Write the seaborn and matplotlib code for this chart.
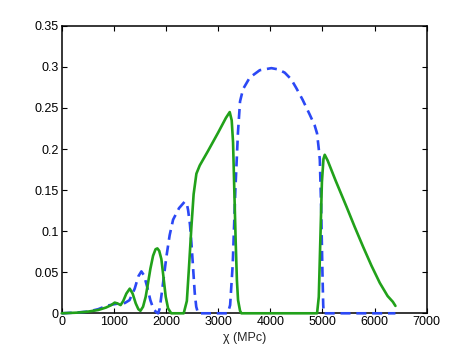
import matplotlib
matplotlib.use("Agg")
import matplotlib.pyplot as plt
import seaborn as sns

# Values
green_x = [0, 300, 500, 700, 850, 950, 1016, 1070, 1130, 1180, 1240, 1305, 1360, 1420,
           1470, 1510, 1560, 1610, 1656, 1700, 1752, 1800, 1835, 1870, 1911, 1950, 1995,
           2040, 2100, 2340, 2400, 2440, 2487, 2530, 2583, 2647, 2800, 3000, 3150, 3222,
           3260, 3286, 3310, 3337, 3360, 3382, 3420, 3446, 4897, 4930, 4960, 4990, 5020,
           5044, 5100, 5250, 5460, 5620, 5780, 5940, 6100, 6250, 6350, 6400]
green_y = [0, 0.0008, 0.002, 0.004, 0.007, 0.010, 0.013, 0.012, 0.010, 0.015, 0.024, 0.030,
           0.024, 0.012, 0.005, 0.003, 0.008, 0.020, 0.037, 0.054, 0.070, 0.078, 0.079,
           0.076, 0.066, 0.045, 0.020, 0.006, 0, 0, 0.015, 0.055, 0.105, 0.145, 0.170,
           0.180, 0.197, 0.220, 0.238, 0.245, 0.235, 0.208, 0.150, 0.086, 0.040, 0.016,
           0.003, 0, 0, 0.02, 0.09, 0.160, 0.188, 0.193, 0.186, 0.162, 0.130, 0.105,
           0.081, 0.058, 0.037, 0.021, 0.014, 0.009]

blue_x = [0, 300, 500, 700, 857, 1000, 1100, 1210, 1300, 1400, 1470, 1528, 1580, 1640,
          1700, 1760, 1820, 1850, 1880, 1930, 2008, 2070, 2136, 2250, 2360, 2400, 2423,
          2460, 2487, 2520, 2551, 2580, 2615, 3185, 3230, 3280, 3330, 3380, 3420, 3478,
          3606, 3798, 4021, 4150, 4277, 4400, 4501, 4620, 4756, 4850, 4897, 4930, 4950,
          4975, 5000, 5015, 5025, 6400]
blue_y = [0, 0.001, 0.002, 0.005, 0.009, 0.011, 0.012, 0.0125, 0.016, 0.030, 0.045, 0.051,
          0.046, 0.032, 0.016, 0.005, 0.001, 0, 0.006, 0.030, 0.069, 0.095, 0.114, 0.128,
          0.136, 0.133, 0.126, 0.108, 0.086, 0.055, 0.025, 0.008, 0, 0, 0.010, 0.060,
          0.150, 0.220, 0.258, 0.273, 0.287, 0.296, 0.2985, 0.297, 0.293, 0.285, 0.274,
          0.260, 0.242, 0.229, 0.219, 0.200, 0.187, 0.130, 0.050, 0.010, 0, 0]

x_ticks = [0, 1000, 2000, 3000, 4000, 5000, 6000, 7000]
y_ticks = [0, 0.05, 0.1, 0.15, 0.2, 0.25, 0.3, 0.35]
y_tick_labels = ["0", "0.05", "0.1", "0.15", "0.2", "0.25", "0.3", "0.35"]

sns.set_style("ticks")
plt.rcParams["font.family"] = ["Liberation Sans", "DejaVu Sans"]

fig = plt.figure(figsize=(4.71, 3.54), dpi=100)
ax = fig.add_axes([0.131, 0.115, 0.775, 0.812])

# dashed blue first, solid green drawn on top
sns.lineplot(x=blue_x, y=blue_y, ax=ax, color="#2b48f5", linewidth=1.9,
             linestyle=(0, (3.8, 2.2)), sort=False, estimator=None)
sns.lineplot(x=green_x, y=green_y, ax=ax, color="#21a11a", linewidth=1.9,
             sort=False, estimator=None)
# lines sit on top of the bottom axis line, as in the original
for ln in ax.lines:
    ln.set_clip_on(False)
    ln.set_zorder(3)

ax.set_xlim(0, 7000)
ax.set_ylim(0, 0.35)
ax.set_xticks(x_ticks)
ax.set_yticks(y_ticks)
ax.set_yticklabels(y_tick_labels)
ax.set_xlabel("χ (MPc)", fontsize=9, labelpad=3)

ax.tick_params(direction="in", length=3.5, width=0.8, labelsize=9,
               top=True, right=True, pad=2, colors="black")
for s in ax.spines.values():
    s.set_visible(True)
    s.set_linewidth(1.1)
    s.set_color("black")

fig.savefig("out.png", dpi=100)
